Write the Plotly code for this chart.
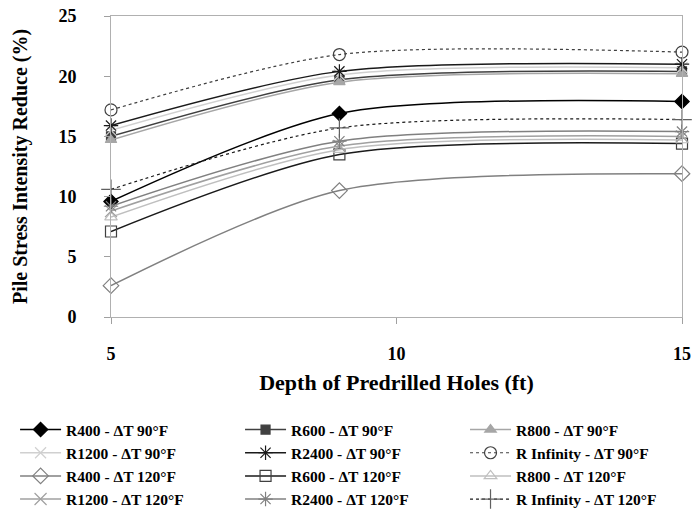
import plotly.graph_objects as go

depth = [5, 9, 15]

names = [
    "R400 - ΔT 90°F", "R600 - ΔT 90°F", "R800 - ΔT 90°F",
    "R1200 - ΔT 90°F", "R2400 - ΔT 90°F", "R Infinity - ΔT 90°F",
    "R400 - ΔT 120°F", "R600 - ΔT 120°F", "R800 - ΔT 120°F",
    "R1200 - ΔT 120°F", "R2400 - ΔT 120°F", "R Infinity - ΔT 120°F",
]

r400_90 = [9.6, 16.9, 17.9]
r600_90 = [15.0, 19.7, 20.4]
r800_90 = [14.7, 19.5, 20.2]
r1200_90 = [15.5, 20.1, 20.7]
r2400_90 = [15.9, 20.4, 21.0]
rinf_90 = [17.2, 21.8, 22.0]
r400_120 = [2.6, 10.5, 11.9]
r600_120 = [7.1, 13.5, 14.4]
r800_120 = [8.3, 13.9, 14.7]
r1200_120 = [8.8, 14.2, 15.0]
r2400_120 = [9.2, 14.6, 15.4]
rinf_120 = [10.6, 15.7, 16.4]

series = [r400_90, r600_90, r800_90, r1200_90, r2400_90, rinf_90,
          r400_120, r600_120, r800_120, r1200_120, r2400_120, rinf_120]

# legend column for each trace (3 columns, filled row by row)
legend_ids = ["legend", "legend2", "legend3"] * 4

styles = [
    dict(color="#000000", symbol="diamond", mcolor="#000000", size=11, dash="solid", width=1.5),
    dict(color="#404040", symbol="square", mcolor="#404040", size=9, dash="solid", width=1.5),
    dict(color="#a6a6a6", symbol="triangle-up", mcolor="#a6a6a6", size=10, dash="solid", width=1.5),
    dict(color="#d0d0d0", symbol="x-thin-open", mcolor="#d0d0d0", size=11, dash="solid", width=1.5),
    dict(color="#1a1a1a", symbol="asterisk-open", mcolor="#1a1a1a", size=12, dash="solid", width=1.5),
    dict(color="#404040", symbol="circle-open", mcolor="#404040", size=12, dash="dot", width=1.2),
    dict(color="#808080", symbol="diamond-open", mcolor="#808080", size=12, dash="solid", width=1.5),
    dict(color="#1a1a1a", symbol="square-open", mcolor="#404040", size=11, dash="solid", width=1.5),
    dict(color="#bfbfbf", symbol="triangle-up-open", mcolor="#bfbfbf", size=11, dash="solid", width=1.5),
    dict(color="#a0a0a0", symbol="x-thin-open", mcolor="#a0a0a0", size=12, dash="solid", width=1.5),
    dict(color="#808080", symbol="asterisk-open", mcolor="#808080", size=12, dash="solid", width=1.5),
    dict(color="#1a1a1a", symbol="cross-thin-open", mcolor="#606060", size=14, dash="dot", width=1.2),
]

fig = go.Figure()
for name, ys, st, lg in zip(names, series, styles, legend_ids):
    fig.add_trace(go.Scatter(
        x=depth, y=ys, name=name, mode="lines+markers", legend=lg,
        line=dict(color=st["color"], width=st["width"], dash=st["dash"], shape="spline", smoothing=0.8),
        marker=dict(symbol=st["symbol"], size=st["size"], color=st["mcolor"],
                    line=dict(color=st["mcolor"], width=1.2)),
        cliponaxis=False,
    ))

font_family = "Liberation Serif, Times New Roman, serif"
legend_font = dict(family=font_family, size=15.5, weight="bold", color="#000000")

def legend_at(x):
    return dict(
        orientation="v", x=x, xanchor="left", y=-0.319, yanchor="top",
        itemwidth=41, font=legend_font, tracegroupgap=0,
        bgcolor="rgba(0,0,0,0)", traceorder="normal",
    )

fig.update_layout(
    width=692, height=510,
    margin=dict(l=111, r=10, t=16, b=193, autoexpand=False),
    paper_bgcolor="white", plot_bgcolor="white",
    font=dict(family=font_family, size=18, color="#000000", weight="bold"),
    xaxis=dict(
        range=[5, 15], tickvals=[5, 10, 15], ticks="outside", ticklen=6,
        tickcolor="#a0a0a0", showline=True, linecolor="#b0b0b0", mirror=True,
        showgrid=False, zeroline=False, ticklabelstandoff=14,
        title=dict(text="Depth of Predrilled Holes (ft)", font=dict(size=22), standoff=12),
        tickfont=dict(size=18),
    ),
    yaxis=dict(
        range=[0, 25], dtick=5, ticks="outside", ticklen=6,
        tickcolor="#a0a0a0", showline=True, linecolor="#b0b0b0", mirror=True,
        showgrid=False, zeroline=False, ticklabelstandoff=24,
        title=dict(text="Pile Stress Intensity Reduce (%)", font=dict(size=20), standoff=25),
        tickfont=dict(size=18),
    ),
    legend=legend_at(-0.168),
    legend2=legend_at(0.226),
    legend3=legend_at(0.620),
    showlegend=True,
)

fig.write_html("out.html")
